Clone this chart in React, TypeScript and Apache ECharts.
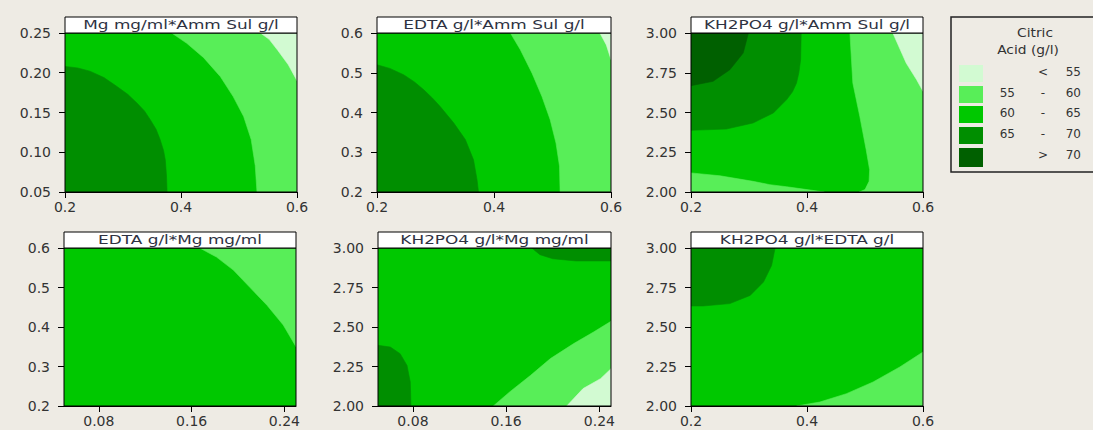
import React, { useEffect, useRef } from 'react';
import * as echarts from 'echarts';

// ---- Data ----
const levelColors = ['#D2FAD2', '#58EE58', '#00C800', '#008E00', '#006000'];
const legendTitle = ['Citric', 'Acid (g/l)'];
const legendLow = ['', '55', '60', '65', ''];
const legendSym = ['<', '-', '-', '-', '>'];
const legendHigh = ['55', '60', '65', '70', '70'];

const panelTitles = [
  'Mg mg/ml*Amm Sul g/l',
  'EDTA g/l*Amm Sul g/l',
  'KH2PO4 g/l*Amm Sul g/l',
  'EDTA g/l*Mg mg/ml',
  'KH2PO4 g/l*Mg mg/ml',
  'KH2PO4 g/l*EDTA g/l',
];

const ammSulRange = [0.2, 0.6];
const mgRange = [0.05, 0.25];
const edtaRange = [0.2, 0.6];
const kh2po4Range = [2, 3];

const ammSulTicks = ['0.2', '0.4', '0.6'];
const mgTicksY = ['0.05', '0.10', '0.15', '0.20', '0.25'];
const edtaTicksY = ['0.2', '0.3', '0.4', '0.5', '0.6'];
const kh2po4Ticks = ['2.00', '2.25', '2.50', '2.75', '3.00'];
const mgTicksX = ['0.08', '0.16', '0.24'];
const edtaTicksX = ['0.2', '0.4', '0.6'];

// Panel 1: Mg vs Amm Sul
const p1Base = [[0.2, 0.05], [0.6, 0.05], [0.6, 0.25], [0.2, 0.25]];
const p1L5560 = [[0.384, 0.25], [0.41, 0.237], [0.439, 0.219], [0.468, 0.195], [0.49, 0.17], [0.508, 0.145], [0.521, 0.116], [0.528, 0.083], [0.531, 0.05], [0.6, 0.05], [0.6, 0.25]];
const p1Lt55 = [[0.537, 0.25], [0.552, 0.242], [0.567, 0.228], [0.585, 0.21], [0.6, 0.19], [0.6, 0.25]];
const p1L6570 = [[0.2, 0.05], [0.2, 0.208], [0.222, 0.206], [0.243, 0.202], [0.267, 0.194], [0.289, 0.183], [0.308, 0.173], [0.324, 0.162], [0.337, 0.152], [0.347, 0.141], [0.357, 0.129], [0.364, 0.116], [0.37, 0.102], [0.373, 0.09], [0.375, 0.07], [0.376, 0.05]];

// Panel 2: EDTA vs Amm Sul
const p2Base = [[0.2, 0.2], [0.6, 0.2], [0.6, 0.6], [0.2, 0.6]];
const p2L5560 = [[0.428, 0.6], [0.445, 0.558], [0.465, 0.499], [0.482, 0.44], [0.496, 0.382], [0.506, 0.323], [0.512, 0.265], [0.513, 0.2], [0.6, 0.2], [0.6, 0.6]];
const p2Lt55 = [[0.581, 0.6], [0.592, 0.57], [0.6, 0.533], [0.6, 0.6]];
const p2L6570 = [[0.2, 0.2], [0.2, 0.52], [0.222, 0.511], [0.2455, 0.495], [0.264, 0.477], [0.28, 0.457], [0.295, 0.436], [0.308, 0.415], [0.331, 0.374], [0.351, 0.332], [0.365, 0.281], [0.371, 0.231], [0.3735, 0.2]];

// Panel 3: KH2PO4 vs Amm Sul
const p3Base = [[0.2, 2], [0.6, 2], [0.6, 3], [0.2, 3]];
const p3L5560Right = [[0.474, 3], [0.479, 2.686], [0.491, 2.476], [0.502, 2.266], [0.508, 2.14], [0.507, 2.067], [0.5, 2.015], [0.49, 2], [0.6, 2], [0.6, 3]];
const p3L5560Bottom = [[0.2, 2], [0.2, 2.12], [0.25, 2.102], [0.307, 2.067], [0.336, 2.046], [0.365, 2.033], [0.4, 2.015], [0.43, 2]];
const p3Lt55 = [[0.548, 3], [0.571, 2.811], [0.589, 2.706], [0.6, 2.633], [0.6, 3]];
const p3L6570 = [[0.39, 3], [0.389, 2.832], [0.386, 2.75], [0.382, 2.686], [0.375, 2.63], [0.365, 2.581], [0.342, 2.497], [0.307, 2.434], [0.261, 2.396], [0.2, 2.388], [0.2, 3]];
const p3Gt70 = [[0.299, 3], [0.29, 2.874], [0.267, 2.769], [0.238, 2.696], [0.2, 2.669], [0.2, 3]];

// Panel 4: EDTA vs Mg
const p4Base = [[0.05, 0.2], [0.25, 0.2], [0.25, 0.6], [0.05, 0.6]];
const p4L5560 = [[0.167, 0.6], [0.1815, 0.577], [0.196, 0.544], [0.21, 0.501], [0.225, 0.455], [0.239, 0.405], [0.25, 0.35], [0.25, 0.6]];

// Panel 5: KH2PO4 vs Mg
const p5Base = [[0.05, 2], [0.25, 2], [0.25, 3], [0.05, 3]];
const p5L6570Top = [[0.182, 3], [0.189, 2.958], [0.2, 2.932], [0.22, 2.918], [0.25, 2.918], [0.25, 3]];
const p5L6570Left = [[0.05, 2], [0.05, 2.384], [0.0606, 2.373], [0.069, 2.331], [0.0749, 2.257], [0.0777, 2.152], [0.0783, 2]];
const p5L5560 = [[0.149, 2], [0.163, 2.089], [0.181, 2.194], [0.198, 2.3], [0.218, 2.395], [0.235, 2.468], [0.25, 2.536], [0.25, 2]];
const p5Lt55 = [[0.212, 2], [0.226, 2.11], [0.241, 2.173], [0.25, 2.236], [0.25, 2]];

// Panel 6: KH2PO4 vs EDTA
const p6Base = [[0.2, 2], [0.6, 2], [0.6, 3], [0.2, 3]];
const p6L6570 = [[0.345, 3], [0.339, 2.89], [0.325, 2.785], [0.302, 2.7], [0.267, 2.648], [0.221, 2.633], [0.2, 2.633], [0.2, 3]];
const p6L5560 = [[0.382, 2], [0.422, 2.025], [0.468, 2.078], [0.514, 2.152], [0.56, 2.247], [0.6, 2.342], [0.6, 2]];

// ---- Layout ----
const grids = [
  { left: 65, top: 33, width: 232, height: 159 },
  { left: 377, top: 33, width: 234, height: 159 },
  { left: 691, top: 33, width: 232, height: 159 },
  { left: 64, top: 248, width: 232, height: 158 },
  { left: 378, top: 248, width: 233, height: 158 },
  { left: 691, top: 248, width: 232, height: 158 },
];

const panels = [
  { x: ammSulRange, xt: ammSulTicks, y: mgRange, yt: mgTicksY, regions: [[p1Base, 2], [p1L5560, 1], [p1Lt55, 0], [p1L6570, 3]] },
  { x: ammSulRange, xt: ammSulTicks, y: edtaRange, yt: edtaTicksY, regions: [[p2Base, 2], [p2L5560, 1], [p2Lt55, 0], [p2L6570, 3]] },
  { x: ammSulRange, xt: ammSulTicks, y: kh2po4Range, yt: kh2po4Ticks, regions: [[p3Base, 2], [p3L5560Right, 1], [p3L5560Bottom, 1], [p3Lt55, 0], [p3L6570, 3], [p3Gt70, 4]] },
  { x: mgRange, xt: mgTicksX, y: edtaRange, yt: edtaTicksY, regions: [[p4Base, 2], [p4L5560, 1]] },
  { x: mgRange, xt: mgTicksX, y: kh2po4Range, yt: kh2po4Ticks, regions: [[p5Base, 2], [p5L6570Top, 3], [p5L6570Left, 3], [p5L5560, 1], [p5Lt55, 0]] },
  { x: edtaRange, xt: edtaTicksX, y: kh2po4Range, yt: kh2po4Ticks, regions: [[p6Base, 2], [p6L6570, 3], [p6L5560, 1]] },
];

const BG = '#EEEBE4';
const FONT = 'DejaVu Sans';

function decimalsOf(labels: string[]) {
  const s = labels[0].split('.');
  return s.length > 1 ? s[1].length : 0;
}

function axisCommon(range: number[], ticks: string[]) {
  const vals = ticks.map((t) => parseFloat(t));
  const dec = decimalsOf(ticks);
  return {
    type: 'value',
    min: range[0],
    max: range[1],
    splitLine: { show: false },
    axisLine: { show: true, onZero: false, lineStyle: { color: '#000', width: 1 } },
    axisTick: { show: true, length: 6, customValues: vals, lineStyle: { color: '#000', width: 1 } },
    axisLabel: {
      customValues: vals,
      color: '#333',
      fontFamily: FONT,
      fontSize: 14,
      formatter: (v: number) => v.toFixed(dec),
    },
  };
}

function regionSeries(gi: number, points: number[][], level: number) {
  return {
    type: 'custom',
    coordinateSystem: 'cartesian2d',
    xAxisIndex: gi,
    yAxisIndex: gi,
    data: points,
    encode: { x: 0, y: 1 },
    clip: true,
    silent: true,
    renderItem: (params: any, api: any) => {
      if (params.dataIndex !== 0) return { type: 'group', children: [] };
      const pts = points.map((p) => api.coord(p));
      return {
        type: 'polygon',
        shape: { points: pts },
        style: { fill: levelColors[level], stroke: levelColors[level], lineWidth: 0.6 },
      };
    },
  };
}

export default function App() {
  const ref = useRef<HTMLDivElement>(null);
  useEffect(() => {
    document.body.style.margin = '0';
    document.body.style.background = BG;
    const chart = echarts.init(ref.current!, undefined, { renderer: 'svg' });

    const xAxes: any[] = [];
    const yAxes: any[] = [];
    const series: any[] = [];
    const graphics: any[] = [];

    panels.forEach((p, i) => {
      const x = axisCommon(p.x, p.xt) as any;
      x.gridIndex = i;
      x.position = 'bottom';
      x.axisLabel.margin = 8;
      const y = axisCommon(p.y, p.yt) as any;
      y.gridIndex = i;
      y.position = 'left';
      y.axisLabel.margin = 14;
      xAxes.push(x);
      yAxes.push(y);
      p.regions.forEach((r: any) => series.push(regionSeries(i, r[0], r[1])));

      const g = grids[i];
      graphics.push({
        type: 'rect',
        z: 100,
        silent: true,
        shape: { x: g.left, y: g.top, width: g.width, height: g.height },
        style: { fill: 'none', stroke: '#000', lineWidth: 1 },
      });
      graphics.push({
        type: 'rect',
        z: 100,
        silent: true,
        shape: { x: g.left, y: g.top - 16, width: g.width, height: 16 },
        style: { fill: '#ffffff', stroke: '#000', lineWidth: 1 },
      });
      graphics.push({
        type: 'text',
        z: 101,
        silent: true,
        x: g.left + g.width / 2,
        y: g.top - 8,
        scaleX: 1.3,
        style: {
          text: panelTitles[i],
          fill: '#2e3242',
          font: `13px "${FONT}"`,
          align: 'center',
          verticalAlign: 'middle',
        },
      });
    });

    // Legend
    graphics.push({
      type: 'rect',
      z: 100,
      silent: true,
      shape: { x: 951, y: 17, width: 150, height: 155 },
      style: { fill: 'none', stroke: '#222', lineWidth: 1.5 },
    });
    graphics.push({
      type: 'text', z: 101, silent: true, x: 1035, y: 33, scaleX: 1.15,
      style: { text: legendTitle[0], fill: '#333', font: `12px "${FONT}"`, align: 'center', verticalAlign: 'middle' },
    });
    graphics.push({
      type: 'text', z: 101, silent: true, x: 1028, y: 50, scaleX: 1.15,
      style: { text: legendTitle[1], fill: '#333', font: `12px "${FONT}"`, align: 'center', verticalAlign: 'middle' },
    });
    const swatchTops = [65, 86, 106, 127, 148];
    levelColors.forEach((c, k) => {
      const top = swatchTops[k];
      graphics.push({
        type: 'rect', z: 101, silent: true,
        shape: { x: 959, y: top, width: 24, height: k === 4 ? 19 : 17 },
        style: { fill: c },
      });
      const cy = top + 7;
      if (legendLow[k]) {
        graphics.push({
          type: 'text', z: 101, silent: true, x: 1015, y: cy,
          style: { text: legendLow[k], fill: '#333', font: `12px "${FONT}"`, align: 'right', verticalAlign: 'middle' },
        });
      }
      graphics.push({
        type: 'text', z: 101, silent: true, x: 1043, y: cy,
        style: { text: legendSym[k], fill: '#333', font: `12px "${FONT}"`, align: 'center', verticalAlign: 'middle' },
      });
      graphics.push({
        type: 'text', z: 101, silent: true, x: 1081, y: cy,
        style: { text: legendHigh[k], fill: '#333', font: `12px "${FONT}"`, align: 'right', verticalAlign: 'middle' },
      });
    });

    chart.setOption({
      animation: false,
      backgroundColor: BG,
      grid: grids.map((g) => ({ ...g, containLabel: false })),
      xAxis: xAxes,
      yAxis: yAxes,
      series,
      graphic: graphics,
    });
    return () => chart.dispose();
  }, []);
  return <div ref={ref} style={{ width: 1093, height: 430 }} />;
}
